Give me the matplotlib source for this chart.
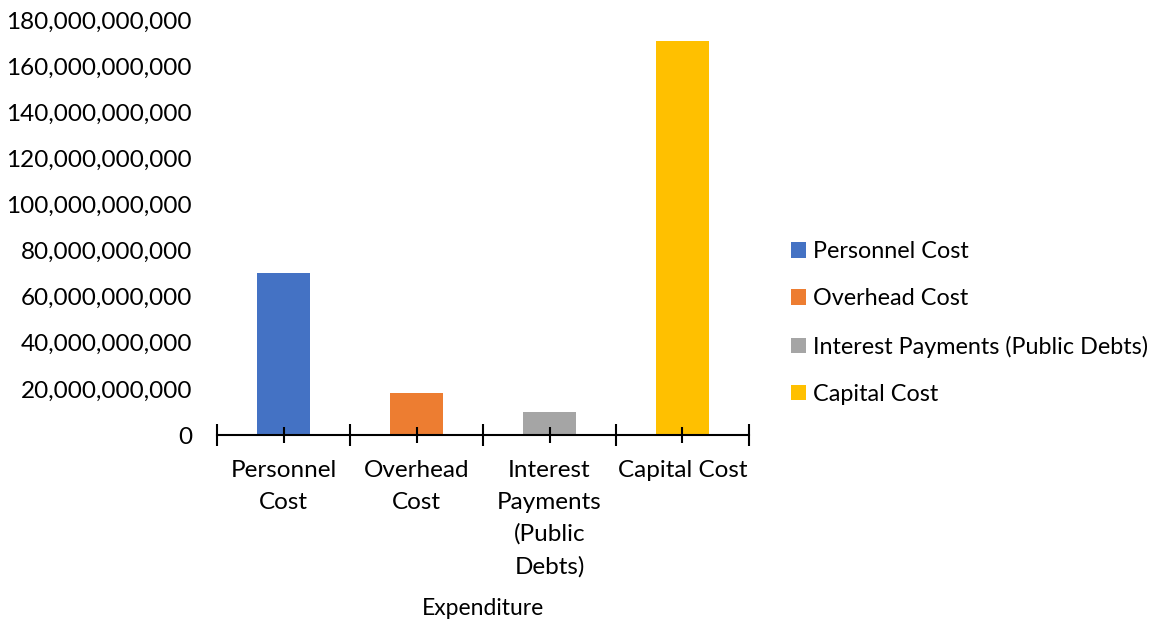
import matplotlib
matplotlib.use("Agg")
import matplotlib.pyplot as plt
from matplotlib.patches import Patch
from matplotlib.ticker import FuncFormatter, FixedLocator

categories = ["Personnel Cost", "Overhead Cost", "Interest Payments (Public Debts)", "Capital Cost"]
tick_labels = ["Personnel\nCost", "Overhead\nCost", "Interest\nPayments\n(Public\nDebts)", "Capital Cost"]
values = [70.4e9, 18.35e9, 10.0e9, 171.0e9]
colors = ["#4472C4", "#ED7D31", "#A5A5A5", "#FFC000"]

plt.rcParams['font.family'] = ['Lato', 'DejaVu Sans']
FS = 17.5

fig = plt.figure(figsize=(11.69, 6.24), dpi=100)
ax = fig.add_axes([217/1169, 1-435/624, (749-217)/1169, (435-20)/624])

x = list(range(len(categories)))
ax.bar(x, values, width=0.4, color=colors)
ax.set_xlim(-0.5, len(categories)-0.5)
ax.set_ylim(0, 180e9)
ax.set_yticks([i*20e9 for i in range(10)])
ax.yaxis.set_major_formatter(FuncFormatter(lambda v, p: f"{int(round(v)):,}"))
ax.tick_params(axis='y', length=0, pad=18, labelsize=FS, labelcolor='#000000')

ax.set_xticks(x)
ax.set_xticklabels(tick_labels, fontsize=FS, linespacing=1.62)
ax.xaxis.set_minor_locator(FixedLocator([i-0.5 for i in range(len(categories)+1)]))
ax.tick_params(axis='x', which='major', direction='inout', length=12, width=1.5, pad=12)
ax.tick_params(axis='x', which='minor', direction='inout', length=16, width=1.5)

for s in ['top', 'right', 'left']:
    ax.spines[s].set_visible(False)
ax.spines['bottom'].set_linewidth(1.5)

ax.set_xlabel("Expenditure", fontsize=FS - 1, labelpad=15)

handles = [Patch(facecolor=c, edgecolor='none') for c in colors]
fig.legend(handles, categories, loc='center left', bbox_to_anchor=(770/1169, 1-323/624),
           frameon=False, fontsize=FS - 0.7, handlelength=0.65, handleheight=0.65,
           handletextpad=0.3, labelspacing=1.12)

fig.savefig("out.png", dpi=100)
